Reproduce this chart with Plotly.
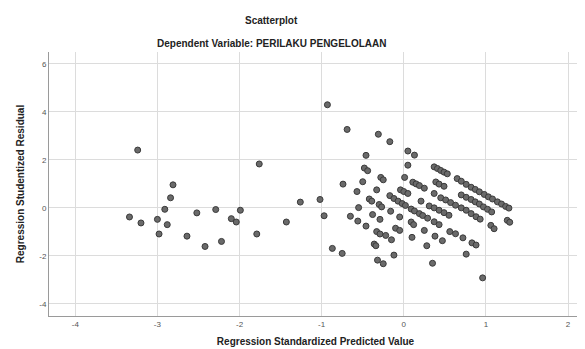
import plotly.graph_objects as go

# Regression Standardized Predicted Value (x) and Studentized Residual (y)
pred_left = [-3.34, -3.24, -3.20, -3.00, -2.98, -2.91, -2.88, -2.84, -2.81, -2.64,
             -2.52, -2.42, -2.29, -2.22, -2.10, -2.04, -1.99, -1.79, -1.76, -1.43,
             -1.26, -1.02, -0.97, -0.93, -0.87, -0.75, -0.74, -0.69]
resid_left = [-0.38, 2.41, -0.63, -0.48, -1.09, -0.06, -0.70, 0.42, 0.96, -1.18,
              -0.21, -1.61, -0.07, -1.40, -0.45, -0.59, -0.10, -1.09, 1.83, -0.59,
              0.24, 0.35, -0.33, 4.30, -1.69, -1.90, 0.99, 3.27]

pred_a = [-0.31, -0.17, 0.05, 0.13, 0.37, 0.41, 0.45, 0.49, 0.53, 0.65, 0.70, 0.76,
          0.82, 0.87, 0.92, 0.98, 1.03, 1.08, 1.14, 1.19, 1.24, 1.28]
resid_a = [3.07, 2.76, 2.37, 2.20, 1.71, 1.64, 1.56, 1.49, 1.42, 1.22, 1.11, 0.98,
           0.86, 0.77, 0.67, 0.56, 0.46, 0.37, 0.25, 0.16, 0.06, -0.01]

pred_c = [0.05, 0.39, 0.43, 0.49, 0.70, 0.76, 0.82, 0.87, 0.92, 0.97, 1.02, 1.07, 1.26, 1.29]
resid_c = [1.78, 1.08, 0.99, 0.90, 0.54, 0.44, 0.35, 0.25, 0.16, 0.04, -0.06, -0.17, -0.52, -0.60]

pred_d = [-0.46, 0.01, 0.11, 0.15, 0.19, 0.25, 0.37, 0.45, 0.51, 0.57, 0.63, 0.70,
          0.76, 0.82, 0.88, 0.93, 1.06, 1.10]
resid_d = [2.19, 1.27, 1.07, 1.00, 0.93, 0.82, 0.60, 0.42, 0.33, 0.22, 0.11, 0.00,
           -0.10, -0.24, -0.37, -0.47, -0.73, -0.87]

pred_e = [-0.48, -0.44, -0.28, -0.25, -0.04, 0.00, 0.05, 0.21, 0.31, 0.37, 0.43, 0.49, 0.55]
resid_e = [1.66, 1.55, 1.27, 1.17, 0.75, 0.68, 0.60, 0.28, 0.08, 0.00, -0.10, -0.20, -0.31]

pred_f = [-0.50, -0.33, -0.17, -0.12, -0.07, -0.02, 0.02, 0.09, 0.13, 0.19, 0.23, 0.29,
          0.37, 0.43, 0.56, 0.63, 0.72, 0.83, 0.88]
resid_f = [1.09, 0.75, 0.51, 0.39, 0.28, 0.18, 0.10, -0.05, -0.13, -0.24, -0.32, -0.43,
           -0.58, -0.70, -0.99, -1.08, -1.25, -1.46, -1.55]

pred_g = [-0.57, -0.42, -0.39, -0.30, -0.27, -0.16, -0.05, 0.09, 0.12, 0.25, 0.38, 0.47, 0.76]
resid_g = [0.68, 0.37, 0.28, 0.14, 0.04, -0.14, -0.38, -0.59, -0.70, -0.94, -1.18, -1.37, -1.93]

pred_low = [-0.55, -0.38, -0.29, -0.10, -0.05, 0.10, 0.28, 0.96,
            -0.65, -0.56, -0.46, -0.33, -0.29, -0.22, -0.15, 0.35,
            -0.36, -0.34, -0.12, -0.32, -0.25]
resid_low = [0.01, -0.28, -0.48, -0.85, -0.94, -1.23, -1.58, -2.92,
             -0.35, -0.55, -0.76, -0.99, -1.09, -1.15, -1.33, -2.31,
             -1.51, -1.58, -1.97, -2.18, -2.33]

x_vals = pred_left + pred_a + pred_c + pred_d + pred_e + pred_f + pred_g + pred_low
y_vals = resid_left + resid_a + resid_c + resid_d + resid_e + resid_f + resid_g + resid_low

x_ticks = [-4, -3, -2, -1, 0, 1, 2]
y_ticks = [-4, -2, 0, 2, 4, 6]

fig = go.Figure()
fig.add_trace(go.Scatter(
    x=x_vals, y=y_vals, mode="markers",
    marker=dict(size=6, color="#6a6a6a", line=dict(color="#3a3a3a", width=1)),
    hoverinfo="x+y", showlegend=False,
))

font_family = "Liberation Sans, Arial, sans-serif"
fig.update_layout(
    width=577, height=341,
    margin=dict(l=41, r=3, t=44, b=28),
    paper_bgcolor="white", plot_bgcolor="white",
    font=dict(family=font_family, color="#222"),
    xaxis=dict(range=[-4.32, 2.17], tickvals=x_ticks, ticktext=[str(v) for v in x_ticks],
               showgrid=True, gridcolor="#dcdcdc", gridwidth=1, zeroline=False,
               showline=True, linecolor="#9a9a9a", linewidth=1,
               ticks="", tickfont=dict(size=8, color="#555"),
               title=dict(text="<b>Regression Standardized Predicted Value</b>",
                          font=dict(size=10, color="#222"), standoff=10)),
    yaxis=dict(range=[-4.51, 6.5], tickvals=y_ticks, ticktext=[str(v) for v in y_ticks],
               showgrid=True, gridcolor="#dcdcdc", gridwidth=1, zeroline=False,
               showline=True, linecolor="#9a9a9a", linewidth=1,
               ticks="", tickfont=dict(size=8, color="#555"),
               title=dict(text="<b>Regression Studentized Residual</b>",
                          font=dict(size=10, color="#222"), standoff=12)),
    annotations=[
        dict(text="<b>Scatterplot</b>", xref="paper", yref="paper", x=0.418, y=1.0,
             yshift=39, showarrow=False, font=dict(size=10, color="#222")),
        dict(text="<b>Dependent Variable: PERILAKU PENGELOLAAN</b>", xref="paper", yref="paper",
             x=0.418, y=1.0, yshift=16, showarrow=False, font=dict(size=10, color="#222")),
    ],
)

fig.write_html("out.html")
